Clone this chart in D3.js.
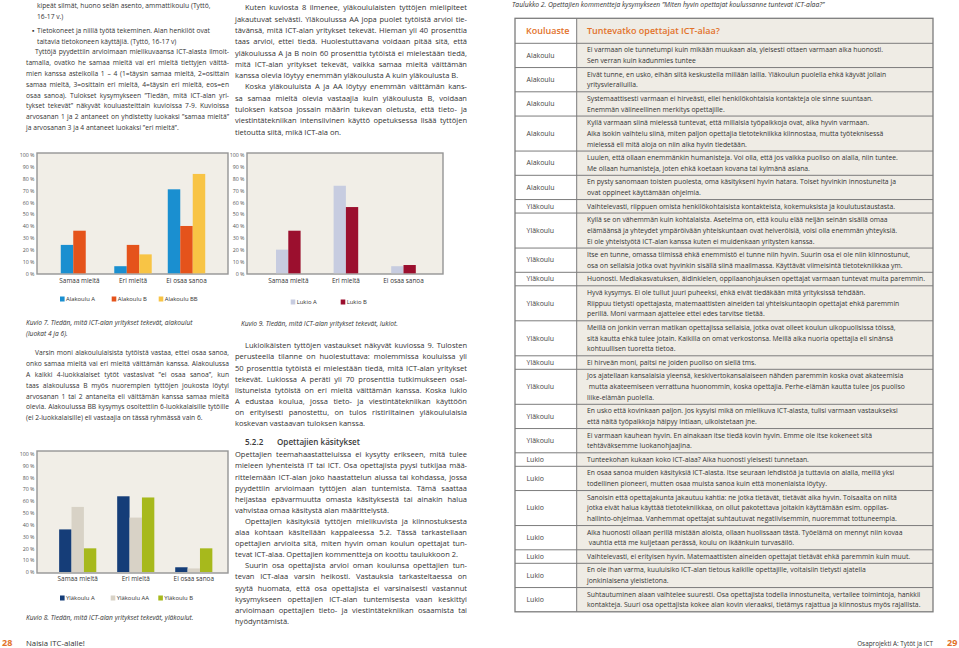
<!DOCTYPE html>
<meta charset="utf-8">
<style>
body { margin: 0; background: #fff; }
svg { display: block; }
</style>
<svg width="959" height="648"></svg>
<script src="https://d3js.org/d3.v7.min.js"></script>
<script>

// ---- chart data ----
var categories = ["Samaa mieltä", "Eri mieltä", "Ei osaa sanoa"];
var yTicks = [0, 10, 20, 30, 40, 50, 60, 70, 80, 90, 100];

// Kuvio 7, alakoulut
var alakouluSeries = ["Alakoulu A", "Alakoulu B", "Alakoulu BB"];
var alakouluA = [24, 6, 71];
var alakouluB = [36, 24, 40];
var alakouluBB = [0, 16, 84];

// Kuvio 8, yläkoulut
var ylakouluSeries = ["Yläkoulu A", "Yläkoulu AA", "Yläkoulu B"];
var ylakouluA = [36, 64, 4];
var ylakouluAA = [55, 46, 3];
var ylakouluB = [20, 63, 20];

// Kuvio 9, lukiot
var lukioSeries = ["Lukio A", "Lukio B"];
var lukioA = [20, 74, 6];
var lukioB = [36, 56, 7];

// ---- table 2 ----
var tableSchool = ["Alakoulu", "Alakoulu", "Alakoulu", "Alakoulu", "Alakoulu", "Alakoulu",
  "Yläkoulu", "Yläkoulu", "Yläkoulu", "Yläkoulu", "Yläkoulu", "Yläkoulu", "Yläkoulu", "Yläkoulu", "Yläkoulu", "Yläkoulu",
  "Lukio", "Lukio", "Lukio", "Lukio", "Lukio", "Lukio", "Lukio"];
var tableComment = [
  ["Ei varmaan ole tunnetumpi kuin mikään muukaan ala, yleisesti ottaen varmaan aika huonosti.", "Sen verran kuin kadunmies tuntee"],
  ["Eivät tunne, en usko, eihän siitä keskustella millään lailla. Yläkoulun puolella ehkä käyvät jollain", "yritysvierailuilla."],
  ["Systemaattisesti varmaan ei hirveästi, ellei henkilökohtaisia kontakteja ole sinne suuntaan.", "Enemmän välineellinen merkitys opettajille."],
  ["Kyllä varmaan siinä mielessä tuntevat, että millaisia työpaikkoja ovat, aika hyvin varmaan.", "Aika isokin vaihtelu siinä, miten paljon opettajia tietotekniikka kiinnostaa, mutta työteknisessä", "mielessä eli mitä aloja on niin aika hyvin tiedetään."],
  ["Luulen, että ollaan enemmänkin humanisteja. Voi olla, että jos vaikka puoliso on alalla, niin tuntee.", "Me ollaan humanisteja, joten ehkä koetaan kovana tai kylmänä asiana."],
  ["En pysty sanomaan toisten puolesta, oma käsitykseni hyvin hatara. Toiset hyvinkin innostuneita ja", "ovat oppineet käyttämään ohjelmia."],
  ["Vaihtelevasti, riippuen omista henkilökohtaisista kontakteista, kokemuksista ja koulutustaustasta."],
  ["Kyllä se on vähemmän kuin kohtalaista. Asetelma on, että koulu elää neljän seinän sisällä omaa", "elämäänsä ja yhteydet ympäröivään yhteiskuntaan ovat heiveröisiä, voisi olla enemmän yhteyksiä.", "Ei ole yhteistyötä ICT-alan kanssa kuten ei muidenkaan yritysten kanssa."],
  ["Itse en tunne, omassa tiimissä ehkä enemmistö ei tunne niin hyvin. Suurin osa ei ole niin kiinnostunut,", "osa on sellaisia jotka ovat hyvinkin sisällä siinä maailmassa. Käyttävät viimeisintä tietotekniikkaa ym."],
  ["Huonosti. Mediakasvatuksen, äidinkielen, oppilaanohjauksen opettajat varmaan tuntevat muita paremmin."],
  ["Hyvä kysymys. Ei ole tullut juuri puheeksi, ehkä eivät tiedäkään mitä yrityksissä tehdään.", "Riippuu tietysti opettajasta, matemaattisten aineiden tai yhteiskuntaopin opettajat ehkä paremmin", "perillä. Moni varmaan ajattelee ettei edes tarvitse tietää."],
  ["Meillä on jonkin verran matikan opettajissa sellaisia, jotka ovat olleet koulun ulkopuolisissa töissä,", "sitä kautta ehkä tulee jotain. Kaikilla on omat verkostonsa. Meillä aika nuoria opettajia eli sinänsä", "kohtuullisen tuoretta tietoa."],
  ["Ei hirveän moni, paitsi ne joiden puoliso on siellä tms."],
  ["Jos ajatellaan kansalaisia yleensä, keskivertokansalaiseen nähden paremmin koska ovat akateemisia", " mutta akateemiseen verrattuna huonommin, koska opettajia. Perhe-elämän kautta tulee jos puoliso", "liike-elämän puolella."],
  ["En usko että kovinkaan paljon. Jos kysyisi mikä on mielikuva ICT-alasta, tulisi varmaan vastaukseksi", "että näitä työpaikkoja häipyy Intiaan, ulkoistetaan jne."],
  ["Ei varmaan kauhean hyvin. En ainakaan itse tiedä kovin hyvin. Emme ole itse kokeneet sitä", "tehtäväksemme luokanohjaajina."],
  ["Tunteekohan kukaan koko ICT-alaa? Aika huonosti yleisesti tunnetaan."],
  ["En osaa sanoa muiden käsityksiä ICT-alasta. Itse seuraan lehdistöä ja tuttavia on alalla, meillä yksi", "todellinen pioneeri, mutten osaa muista sanoa kuin että monenlaista löytyy."],
  ["Sanoisin että opettajakunta jakautuu kahtia: ne jotka tietävät, tietävät aika hyvin. Toisaalta on niitä", "jotka eivät halua käyttää tietotekniikkaa, on ollut pakotettava joitakin käyttämään esim. oppilas-", "hallinto-ohjelmaa. Vanhemmat opettajat suhtautuvat negatiivisemmin, nuoremmat tottuneempia."],
  ["Aika huonosti ollaan perillä mistään aloista, ollaan huolissaan tästä. Työelämä on mennyt niin kovaa", " vauhtia että me kuljetaan perässä, koulu on ikäänkuin turvasäilö."],
  ["Vaihtelevasti, ei erityisen hyvin. Matemaattisten aineiden opettajat tietävät ehkä paremmin kuin muut."],
  ["En ole ihan varma, kuuluisiko ICT-alan tietous kaikille opettajille, voitaisiin tietysti ajatella", "jonkinlaisena yleistietona."],
  ["Suhtautuminen alaan vaihtelee suuresti. Osa opettajista todella innostuneita, vertailee toimintoja, hankkii", "kontakteja. Suuri osa opettajista kokee alan kovin vieraaksi, tietämys rajattua ja kiinnostus myös rajallista."]
];

// ---- body text ----
var bullet1 = ["kipeät silmät, huono selän asento, ammattikoulu (Tyttö,", "16-17 v.)"];
var bullet2 = ["Tietokoneet ja niillä työtä tekeminen. Alan henkilöt ovat", "taitavia tietokoneen käyttäjiä. (Tyttö, 16-17 v)"];
var leftPara1 = [
  "Tyttöjä pyydettiin arvioimaan mielikuvaansa ICT-alasta ilmoit-",
  "tamalla, ovatko he samaa mieltä vai eri mieltä tiettyjen väittä-",
  "mien kanssa asteikolla 1 – 4 (1=täysin samaa mieltä, 2=osittain",
  "samaa mieltä, 3=osittain eri mieltä, 4=täysin eri mieltä, eos=en",
  "osaa sanoa). Tulokset kysymykseen ”Tiedän, mitä ICT-alan yri-",
  "tykset tekevät” näkyvät kouluasteittain kuvioissa 7-9. Kuvioissa",
  "arvosanan 1 ja 2 antaneet on yhdistetty luokaksi ”samaa mieltä”",
  "ja arvosanan 3 ja 4 antaneet luokaksi ”eri mieltä”."];
var leftPara2 = [
  "Varsin moni alakoululaisista tytöistä vastaa, ettei osaa sanoa,",
  "onko samaa mieltä vai eri mieltä väittämän kanssa. Alakoulussa",
  "A kaikki 4-luokkalaiset tytöt vastasivat ”ei osaa sanoa”, kun",
  "taas alakoulussa B myös nuorempien tyttöjen joukosta löytyi",
  "arvosanan 1 tai 2 antaneita eli väittämän kanssa samaa mieltä",
  "olevia. Alakoulussa BB kysymys osoitettiin 6-luokkalaisille tytöille",
  "(ei 2-luokkalaisille) eli vastaajia on tässä ryhmässä vain 6."];
var midPara1 = [
  "Kuten kuviosta 8 ilmenee, yläkoululaisten tyttöjen mielipiteet",
  "jakautuvat selvästi. Yläkoulussa AA jopa puolet tytöistä arvioi tie-",
  "tävänsä, mitä ICT-alan yritykset tekevät. Hieman yli 40 prosenttia",
  "taas arvioi, ettei tiedä. Huolestuttavana voidaan pitää sitä, että",
  "yläkoulussa A ja B noin 60 prosenttia tytöistä ei mielestään tiedä,",
  "mitä ICT-alan yritykset tekevät, vaikka samaa mieltä väittämän",
  "kanssa olevia löytyy enemmän yläkoulusta A kuin yläkoulusta B."];
var midPara2 = [
  "Koska yläkouluista A ja AA löytyy enemmän väittämän kans-",
  "sa samaa mieltä olevia vastaajia kuin yläkoulusta B, voidaan",
  "tuloksen katsoa jossain määrin tukevan oletusta, että tieto- ja",
  "viestintätekniikan intensiivinen käyttö opetuksessa lisää tyttöjen",
  "tietoutta siitä, mikä ICT-ala on."];
var midPara3 = [
  "Lukioikäisten tyttöjen vastaukset näkyvät kuviossa 9. Tulosten",
  "perusteella tilanne on huolestuttava: molemmissa kouluissa yli",
  "50 prosenttia tytöistä ei mielestään tiedä, mitä ICT-alan yritykset",
  "tekevät. Lukiossa A peräti yli 70 prosenttia tutkimukseen osal-",
  "listuneista tytöistä on eri mieltä väittämän kanssa. Koska lukio",
  "A edustaa koulua, jossa tieto- ja viestintätekniikan käyttöön",
  "on erityisesti panostettu, on tulos ristiriitainen yläkoululaisia",
  "koskevan vastaavan tuloksen kanssa."];
var midPara4 = [
  "Opettajien teemahaastatteluissa ei kysytty erikseen, mitä tulee",
  "mieleen lyhenteistä IT tai ICT. Osa opettajista pyysi tutkijaa mää-",
  "rittelemään ICT-alan joko haastattelun alussa tai kohdassa, jossa",
  "pyydettiin arvioimaan tyttöjen alan tuntemista. Tämä saattaa",
  "heijastaa epävarmuutta omasta käsityksestä tai ainakin halua",
  "vahvistaa omaa käsitystä alan määrittelystä."];
var midPara5 = [
  "Opettajien käsityksiä tyttöjen mielikuvista ja kiinnostuksesta",
  "alaa kohtaan käsitellään kappaleessa 5.2. Tässä tarkastellaan",
  "opettajien arvioita sitä, miten hyvin oman koulun opettajat tun-",
  "tevat ICT-alaa. Opettajien kommentteja on koottu taulukkoon 2."];
var midPara6 = [
  "Suurin osa opettajista arvioi oman koulunsa opettajien tun-",
  "tevan ICT-alaa varsin heikosti. Vastauksia tarkasteltaessa on",
  "syytä huomata, että osa opettajista ei varsinaisesti vastannut",
  "kysymykseen opettajien ICT-alan tuntemisesta vaan keskittyi",
  "arvioimaan opettajien tieto- ja viestintätekniikan osaamista tai",
  "hyödyntämistä."];

var FONT = '"Open Sans", sans-serif';
var INK = "#333";
var ORANGE = "#e2722a";

var svg = d3.select("svg").attr("font-family", FONT);

// text measuring helper
var probe = svg.append("text").attr("x", -999).attr("y", -999);
function w10(s, weight, style) {
  probe.attr("font-size", 10).attr("font-weight", weight || 400)
      .attr("font-style", style || "normal").text(s);
  return probe.node().getComputedTextLength();
}
function fit(s, target, weight, style) { return 10 * target / w10(s, weight, style); }

// font size so the widest justified line just fits the column
function colSize(paras, w, indent) {
  var best = 99;
  paras.forEach(function(lines) {
    lines.slice(0, -1).forEach(function(l, i) {
      best = Math.min(best, 10 * (w - (i === 0 ? indent : 0)) / w10(l));
    });
  });
  return best * 0.99;
}

function para(lines, o) {
  lines.forEach(function(line, i) {
    var x0 = o.x + (i === 0 ? (o.indent || 0) : 0);
    var t = svg.append("text")
        .attr("x", x0)
        .attr("y", o.y + i * o.lh)
        .attr("font-size", o.size)
        .attr("font-style", o.style || "normal")
        .attr("fill", o.fill || INK)
        .text(line);
    if (o.justify && i < lines.length - 1) {
      var nat = t.node().getComputedTextLength(),
          spaces = (line.match(/ /g) || []).length;
      if (spaces) t.style("word-spacing", ((o.w - (x0 - o.x) - nat) / spaces) + "px");
    }
  });
}

// ---- left column ----
var LX = 26, LW = 203, MX = 235, MW = 232;
var lSize = colSize([leftPara1, leftPara2], LW, 9);
var mSize = colSize([midPara1, midPara2, midPara3, midPara4, midPara5, midPara6], MW, 10);

para(bullet1, {x: 37, y: 8.3, lh: 10.8, size: lSize});
svg.append("text").attr("x", 32).attr("y", 32.6).attr("font-size", lSize).attr("fill", INK).text("▪");
para(bullet2, {x: 37, y: 32.8, lh: 10.8, size: lSize});
para(leftPara1, {x: LX, y: 54.4, lh: 10.8, size: lSize, indent: 9, w: LW, justify: true});
para(leftPara2, {x: LX, y: 355.3, lh: 10.8, size: lSize, indent: 9, w: LW, justify: true});

// ---- middle column ----
para(midPara1, {x: MX, y: 10.3, lh: 11.3, size: mSize, indent: 10, w: MW, justify: true});
para(midPara2, {x: MX, y: 10.3 + 7 * 11.3, lh: 11.3, size: mSize, indent: 10, w: MW, justify: true});
para(midPara3, {x: MX, y: 348.3, lh: 11.1, size: mSize, indent: 10, w: MW, justify: true});
var headSize = fit("Opettajien käsitykset", 83, 600);
svg.append("text").attr("x", 245).attr("y", 445).attr("font-size", headSize)
    .attr("font-weight", 600).attr("fill", "#3a3a3a").text("5.2.2");
svg.append("text").attr("x", 277).attr("y", 445).attr("font-size", headSize)
    .attr("font-weight", 600).attr("fill", "#3a3a3a").text("Opettajien käsitykset");
para(midPara4, {x: MX, y: 457.3, lh: 11.1, size: mSize, indent: 0, w: MW, justify: true});
para(midPara5, {x: MX, y: 457.3 + 6 * 11.1, lh: 11.1, size: mSize, indent: 10, w: MW, justify: true});
para(midPara6, {x: MX, y: 457.3 + 10 * 11.1, lh: 11.1, size: mSize, indent: 10, w: MW, justify: true});

// ---- bar charts ----
var capSize = fit("Kuvio 7. Tiedän, mitä ICT-alan yritykset tekevät, alakoulut", 167, 400, "italic");

function barChart(c) {
  var g = svg.append("g");
  var x = d3.scaleBand().domain(categories).range(c.xRange)
      .paddingInner(c.pad).paddingOuter(c.pad / 2);
  var xs = d3.scaleBand().domain(c.series).range([0, x.bandwidth()]);
  var y = d3.scaleLinear().domain([0, 100]).range([c.y0, c.y100]);

  g.append("rect")
      .attr("x", c.frame[0]).attr("y", c.frame[1])
      .attr("width", c.frame[2] - c.frame[0]).attr("height", c.frame[3] - c.frame[1])
      .attr("fill", "#f1eee7").attr("stroke", "#959595").attr("stroke-width", 1.4);

  c.series.forEach(function(name, si) {
    g.selectAll(null).data(c.values[si]).enter().append("rect")
        .attr("x", function(d, i) { return x(categories[i]) + xs(name); })
        .attr("y", function(d) { return y(d); })
        .attr("width", xs.bandwidth())
        .attr("height", function(d) { return y(0) - y(d); })
        .attr("fill", c.colors[si]);
  });

  var ya = g.append("g")
      .attr("transform", "translate(" + c.frame[0] + ",0)")
      .call(d3.axisLeft(y).tickValues(yTicks).tickSize(0).tickPadding(2.5)
        .tickFormat(function(d) { return d + " %"; }));
  ya.select(".domain").remove();
  ya.attr("font-family", FONT).attr("font-size", 5.3);
  ya.selectAll("text").attr("fill", "#555");

  var xa = g.append("g")
      .attr("transform", "translate(0," + c.labelY + ")")
      .call(d3.axisBottom(x).tickSize(0).tickPadding(0));
  xa.select(".domain").remove();
  xa.attr("font-family", FONT).attr("font-size", 6.4);
  xa.selectAll("text").attr("fill", INK);

  c.series.forEach(function(name, si) {
    g.append("rect").attr("x", c.legendX[si]).attr("y", c.legendY - 2.5)
        .attr("width", 4.6).attr("height", 5).attr("fill", c.colors[si]);
    g.append("text").attr("x", c.legendX[si] + 6).attr("y", c.legendY + 2.1)
        .attr("font-size", 5.9).attr("fill", INK).text(name);
  });

  c.caption.forEach(function(line, i) {
    g.append("text").attr("x", c.captionX).attr("y", c.captionY + i * 10.6)
        .attr("font-size", capSize).attr("font-style", "italic").attr("fill", INK).text(line);
  });
}

barChart({
  series: alakouluSeries, values: [alakouluA, alakouluB, alakouluBB],
  colors: ["#1a8fd0", "#e5531b", "#f8c445"],
  frame: [37, 153, 228, 274], y0: 273.3, y100: 155,
  xRange: [52.75, 213.25], pad: 0.3, labelY: 278.3,
  legendX: [60, 111.7, 158.7], legendY: 299,
  caption: ["Kuvio 7. Tiedän, mitä ICT-alan yritykset tekevät, alakoulut", "(luokat 4 ja 6)."],
  captionX: 26, captionY: 325.3
});

barChart({
  series: lukioSeries, values: [lukioA, lukioB],
  colors: ["#c7cce0", "#9b0f2e"],
  frame: [247, 153, 443, 274], y0: 273.3, y100: 155,
  xRange: [259.5, 432.3], pad: 0.573, labelY: 278.3,
  legendX: [290.7, 340.7], legendY: 302,
  caption: ["Kuvio 9. Tiedän, mitä ICT-alan yritykset tekevät, lukiot."],
  captionX: 241, captionY: 326
});

barChart({
  series: ylakouluSeries, values: [ylakouluA, ylakouluAA, ylakouluB],
  colors: ["#153d78", "#d8d2c6", "#a7b91c"],
  frame: [37, 451, 228, 573], y0: 572, y100: 453.7,
  xRange: [48.7, 222.8], pad: 0.36, labelY: 576.5,
  legendX: [60, 110.7, 158.3], legendY: 598,
  caption: ["Kuvio 8. Tiedän, mitä ICT-alan yritykset tekevät, yläkoulut."],
  captionX: 26, captionY: 620.3
});

// ---- table 2 ----
var TX0 = 515, TX1 = 933, TDIV = 576.7, THEAD = 18.3, TBODY = 43.3, TLH = 10.75, TPAD = 2.75;
var tSize = fit(tableComment[9][0], 339);

svg.append("text").attr("x", 512).attr("y", 7)
    .attr("font-size", fit("Taulukko 2. Opettajien kommentteja kysymykseen ”Miten hyvin opettajat koulussanne tuntevat ICT-alaa?”", 313, 400, "italic"))
    .attr("font-style", "italic").attr("fill", INK)
    .text("Taulukko 2. Opettajien kommentteja kysymykseen ”Miten hyvin opettajat koulussanne tuntevat ICT-alaa?”");

var rowTop = [], acc = TBODY;
tableComment.forEach(function(lines) { rowTop.push(acc); acc += TPAD + TLH * lines.length; });
var TEND = acc;

svg.append("rect").attr("x", TDIV).attr("y", THEAD).attr("width", TX1 - TDIV).attr("height", TEND - THEAD)
    .attr("fill", "#efece5");

var rows = svg.append("g").selectAll("g").data(tableComment).enter().append("g");
rows.each(function(lines, r) {
  var g = d3.select(this), top = rowTop[r], h = TPAD + TLH * lines.length;
  g.append("text").attr("x", 526.5).attr("y", top + h / 2 + 2.3)
      .attr("font-size", tSize * 1.02).attr("fill", "#444").text(tableSchool[r]);
  lines.forEach(function(l, i) {
    g.append("text").attr("x", 587).attr("y", top + TPAD / 2 + TLH * (i + 0.5) + 2.3)
        .attr("font-size", tSize).attr("fill", INK).attr("xml:space", "preserve").text(l);
  });
  g.append("line").attr("x1", TX0).attr("x2", TX1).attr("y1", top).attr("y2", top)
      .attr("stroke", "#7c7c7c").attr("stroke-width", 1);
});

svg.append("line").attr("x1", TDIV).attr("x2", TDIV).attr("y1", THEAD).attr("y2", TEND)
    .attr("stroke", "#7c7c7c").attr("stroke-width", 1);
svg.append("rect").attr("x", TX0).attr("y", THEAD).attr("width", TX1 - TX0).attr("height", TEND - THEAD)
    .attr("fill", "none").attr("stroke", "#7c7c7c").attr("stroke-width", 1.3);

var hSize = fit("Tuntevatko opettajat ICT-alaa?", 133, 600);
svg.append("text").attr("x", 526).attr("y", 34.3).attr("font-size", hSize)
    .attr("font-weight", 600).attr("fill", ORANGE).text("Kouluaste");
svg.append("text").attr("x", 587).attr("y", 34.3).attr("font-size", hSize)
    .attr("font-weight", 600).attr("fill", ORANGE).text("Tuntevatko opettajat ICT-alaa?");

// ---- footer ----
svg.append("text").attr("x", 2).attr("y", 646).attr("font-size", 9).attr("font-weight", 700)
    .attr("fill", ORANGE).text("28");
svg.append("text").attr("x", 26).attr("y", 645.5).attr("font-size", fit("Naisia ITC-alalle!", 59))
    .attr("fill", INK).text("Naisia ITC-alalle!");
svg.append("text").attr("x", 933).attr("y", 645.5).attr("text-anchor", "end")
    .attr("font-size", fit("Osaprojekti A: Tytöt ja ICT", 76)).attr("fill", INK)
    .text("Osaprojekti A: Tytöt ja ICT");
svg.append("text").attr("x", 947).attr("y", 646).attr("font-size", 9).attr("font-weight", 700)
    .attr("fill", ORANGE).text("29");

probe.remove();

</script>
